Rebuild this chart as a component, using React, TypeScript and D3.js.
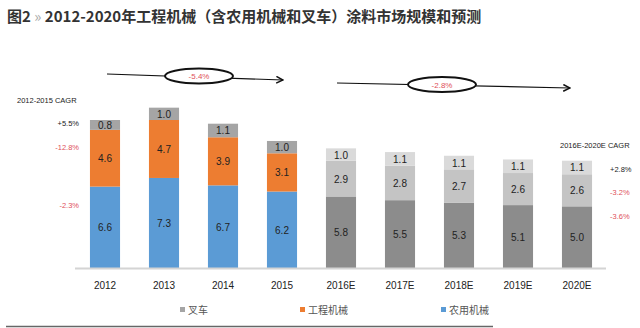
import React from "react";
import * as d3 from "d3";

const years = ["2012", "2013", "2014", "2015", "2016E", "2017E", "2018E", "2019E", "2020E"];
const forklift = [0.8, 1.0, 1.1, 1.0, 1.0, 1.1, 1.1, 1.1, 1.1];
const engineering = [4.6, 4.7, 3.9, 3.1, 2.9, 2.8, 2.7, 2.6, 2.6];
const agri = [6.6, 7.3, 6.7, 6.2, 5.8, 5.5, 5.3, 5.1, 5.0];
const forecastFlags = [false, false, false, false, true, true, true, true, true];
const seriesNames = ["叉车", "工程机械", "农用机械"];
const cagrLeft = ["+5.5%", "-12.8%", "-2.3%"];
const cagrRight = ["+2.8%", "-3.2%", "-3.6%"];
const trendLabels = ["-5.4%", "-2.8%"];

const histColors = ["#a5a5a5", "#ed7d31", "#5b9bd5"];
const fcColors = ["#dadada", "#c4c4c4", "#8c8c8c"];

export default function App() {
  const W = 640, H = 328;
  const x = d3.scaleBand<string>().domain(years).range([75.5, 606.5]).paddingInner(0.49).paddingOuter(0.245);
  const y = d3.scaleLinear().domain([0, 12]).range([268, 120]);
  const cjk = "'Noto Sans CJK SC', 'Noto Sans', sans-serif";
  const lat = "'Liberation Sans', 'DejaVu Sans', sans-serif";

  const bars = years.map((yr, i) => {
    const vals = [agri[i], engineering[i], forklift[i]];
    const cols = forecastFlags[i] ? [fcColors[2], fcColors[1], fcColors[0]] : [histColors[2], histColors[1], histColors[0]];
    const stack: { y0: number; y1: number; v: number; c: string }[] = [];
    let acc = 0;
    vals.forEach((v, k) => {
      stack.push({ y0: acc, y1: acc + v, v, c: cols[k] });
      acc += v;
    });
    return { yr, stack };
  });

  return (
    <svg width={W} height={H} style={{ position: "absolute", left: 0, top: 0, background: "#fff" }}>
      <defs>
        <marker id="arr" viewBox="0 0 10 10" refX="9" refY="5" markerWidth="7" markerHeight="7" orient="auto">
          <path d="M1,1 L9,5 L1,9" fill="none" stroke="#111" strokeWidth="1.8" />
        </marker>
      </defs>
      <rect width={W} height={H} fill="#fff" />
      <text x={7} y={22} fontFamily={cjk} fontSize={15} fontWeight={700} fill="#333">
        图2 <tspan fill="#aaa" fontWeight={400}>»</tspan> 2012-2020年工程机械（含农用机械和叉车）涂料市场规模和预测
      </text>

      {/* trend arrows */}
      <line x1={107} y1={74} x2={283} y2={80} stroke="#111" strokeWidth={1.2} markerEnd="url(#arr)" />
      <ellipse cx={199} cy={76} rx={34} ry={7.5} fill="#fff" stroke="#111" strokeWidth={2} />
      <text x={199} y={79} textAnchor="middle" fontFamily={lat} fontSize={8} fill="#e0505a">{trendLabels[0]}</text>
      <line x1={337} y1={83} x2={570} y2={88} stroke="#111" strokeWidth={1.2} markerEnd="url(#arr)" />
      <ellipse cx={442} cy={84.5} rx={34} ry={7.5} fill="#fff" stroke="#111" strokeWidth={2} />
      <text x={442} y={87.5} textAnchor="middle" fontFamily={lat} fontSize={8} fill="#e0505a">{trendLabels[1]}</text>

      {/* bars */}
      {bars.map((b) => (
        <g key={b.yr}>
          {b.stack.map((s, k) => (
            <g key={k}>
              <rect x={x(b.yr)} y={y(s.y1)} width={x.bandwidth()} height={y(s.y0) - y(s.y1)} fill={s.c} />
              <text x={(x(b.yr) as number) + x.bandwidth() / 2} y={(y(s.y0) + y(s.y1)) / 2 + 4}
                textAnchor="middle" fontFamily={lat} fontSize={10} fill="#222">{s.v.toFixed(1)}</text>
            </g>
          ))}
          <text x={(x(b.yr) as number) + x.bandwidth() / 2} y={289} textAnchor="middle" fontFamily={lat} fontSize={10} fill="#222">{b.yr}</text>
        </g>
      ))}
      <line x1={75} x2={606} y1={268.5} y2={268.5} stroke="#d4d4d4" strokeWidth={2} />

      {/* CAGR labels */}
      <text x={17} y={103} fontFamily={lat} fontSize={7.5} fill="#222">2012-2015 CAGR</text>
      {cagrLeft.map((t, i) => (
        <text key={t} x={79} y={[126, 150, 208][i]} textAnchor="end" fontFamily={lat} fontSize={7.5} fill={i === 0 ? "#222" : "#e0505a"}>{t}</text>
      ))}
      <text x={560} y={148} fontFamily={lat} fontSize={7.5} fill="#222">2016E-2020E CAGR</text>
      {cagrRight.map((t, i) => (
        <text key={t} x={610} y={[172, 195, 219][i]} fontFamily={lat} fontSize={7.5} fill={i === 0 ? "#222" : "#e0505a"}>{t}</text>
      ))}

      {/* legend */}
      {seriesNames.map((n, i) => {
        const lx = [180, 300, 441][i];
        return (
          <g key={n}>
            <rect x={lx} y={307} width={5} height={5} fill={histColors[i]} />
            <text x={lx + 8} y={314} fontFamily={cjk} fontSize={10} fill="#555">{n}</text>
          </g>
        );
      })}
      <line x1={6} x2={493} y1={326.5} y2={326.5} stroke="#666" strokeWidth={1.5} />
    </svg>
  );
}
